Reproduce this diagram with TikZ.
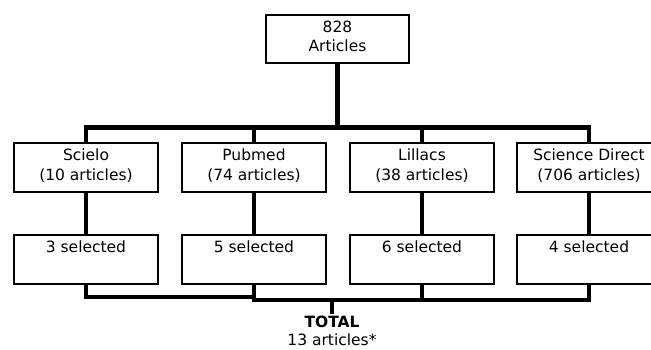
\documentclass[tikz,border=0pt]{standalone}
\usepackage{fontspec}
\setmainfont{DejaVu Sans}
\begin{document}
\begin{tikzpicture}[x=1pt,y=-1pt,
  box/.style={draw=black,line width=1.2pt,fill=white,minimum width=144pt,minimum height=49pt,inner sep=0pt},
  lbl/.style={anchor=base,align=center,inner sep=0pt,font=\fontsize{15.5}{19.5}\selectfont},
  conn/.style={line width=4.3pt,line join=miter}]
\useasboundingbox (0,0) rectangle (651,349);
\clip (0,0) rectangle (651,349);
% boxes
\node[box,minimum width=143pt,minimum height=48pt] (top) at (337.5,39) {};
\node[box] (a1) at (86,167.5) {};
\node[box] (a2) at (254,167.5) {};
\node[box] (a3) at (422,167.5) {};
\node[box] (a4) at (589,167.5) {};
\node[box] (s1) at (86,259.5) {};
\node[box] (s2) at (254,259.5) {};
\node[box] (s3) at (422,259.5) {};
\node[box] (s4) at (589,259.5) {};
% texts (base = baseline of last line)
\node[lbl] (ttop) at (337.5,51.5) {828\\Articles};
\node[lbl] (ta1) at (86,180) {Scielo\\(10 articles)};
\node[lbl] (ta2) at (254,180) {Pubmed\\(74 articles)};
\node[lbl] (ta3) at (422,180) {Lillacs\\(38 articles)};
\node[lbl] (ta4) at (589,180) {Science Direct\\(706 articles)};
\node[lbl] (ts1) at (86,252) {3 selected};
\node[lbl] (ts2) at (254,252) {5 selected};
\node[lbl] (ts3) at (422,252) {6 selected};
\node[lbl] (ts4) at (589,252) {4 selected};
\node[lbl,font=\fontsize{15.5}{18}\selectfont] (total) at (332,345.5) {\textbf{TOTAL}\\13 articles*};
% coordinates
\coordinate (bar) at (337.5,127.5);
\coordinate (lo1) at (0,297);
\coordinate (lo2) at (0,300);
\coordinate (tk) at (332,300);
\coordinate (tkend) at (332,313.5);
% top connectors
\draw[conn] (top.south) -- (bar);
\draw[conn] (a1.north) |- (bar) -| (a4.north);
\draw[conn] (a2.north) -- (a2.north |- bar);
\draw[conn] (a3.north) -- (a3.north |- bar);
% vertical links
\draw[conn] (a1.south) -- (s1.north);
\draw[conn] (a2.south) -- (s2.north);
\draw[conn] (a3.south) -- (s3.north);
\draw[conn] (a4.south) -- (s4.north);
% bottom connectors
\draw[conn] (s1.south) -- (s1.south |- lo1) -- (s2.south |- lo1);
\draw[conn] (s2.south) -- (s2.south |- lo2) -- (s4.south |- lo2) -- (s4.south);
\draw[conn] (s3.south) -- (s3.south |- lo2);
\draw[conn] (tk) -- (tkend);
% redraw box borders over connector ends
\foreach \n in {top,a1,a2,a3,a4,s1,s2,s3,s4}{\draw[line width=1.2pt] (\n.north west) rectangle (\n.south east);}
\end{tikzpicture}
\end{document}
